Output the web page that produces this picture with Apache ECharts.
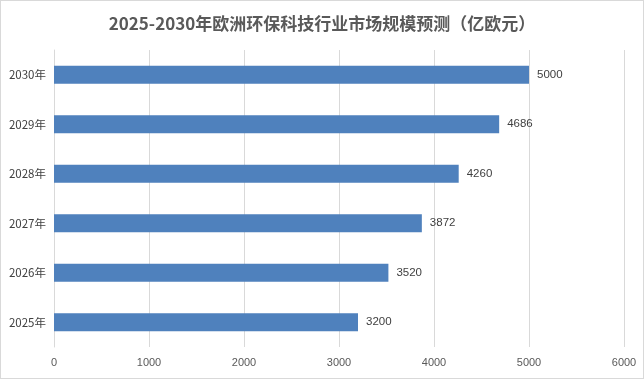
<!DOCTYPE html>
<html><head><meta charset="utf-8">
<script src="https://cdn.jsdelivr.net/npm/echarts@6/dist/echarts.min.js"></script>
<style>
html,body{margin:0;padding:0;background:#fff;}
#c{width:642px;height:377px;border:1px solid #d9d9d9;}
</style></head>
<body><div id="c"></div>
<script>
const titleText = '2025-2030年欧洲环保科技行业市场规模预测（亿欧元）';
const categories = ['2025年','2026年','2027年','2028年','2029年','2030年'];
const values = [3200, 3520, 3872, 4260, 4686, 5000];
const xTicks = [0, 1000, 2000, 3000, 4000, 5000, 6000];

const chart = echarts.init(document.getElementById('c'));
chart.setOption({
  animation: false,
  title: {
    text: titleText, left: 'center', top: 9,
    textStyle: {fontFamily: 'Noto Sans CJK SC', fontSize: 17, fontWeight: 'bold', color: '#595959'}
  },
  grid: {left: 53, right: 19, top: 49, bottom: 31, containLabel: false},
  xAxis: {
    type: 'value', min: xTicks[0], max: xTicks[xTicks.length-1], interval: 1000,
    axisLine: {show: false}, axisTick: {show: false},
    splitLine: {show: true, lineStyle: {color: '#d9d9d9', width: 1}},
    axisLabel: {color: '#595959', fontSize: 11, fontFamily: 'Liberation Sans', margin: 10,
      formatter: v => String(v)}
  },
  yAxis: {
    type: 'category', data: categories,
    axisLine: {show: true, lineStyle: {color: '#d9d9d9'}}, axisTick: {show: false},
    axisLabel: {color: '#404040', fontSize: 11.5, fontFamily: 'Noto Sans CJK SC', margin: 8}
  },
  series: [{
    type: 'bar', data: values, barWidth: 18,
    itemStyle: {color: '#4f81bd'},
    label: {show: true, position: 'right', distance: 8, color: '#404040', fontSize: 11.5, fontFamily: 'Liberation Sans'}
  }]
});
</script></body></html>
